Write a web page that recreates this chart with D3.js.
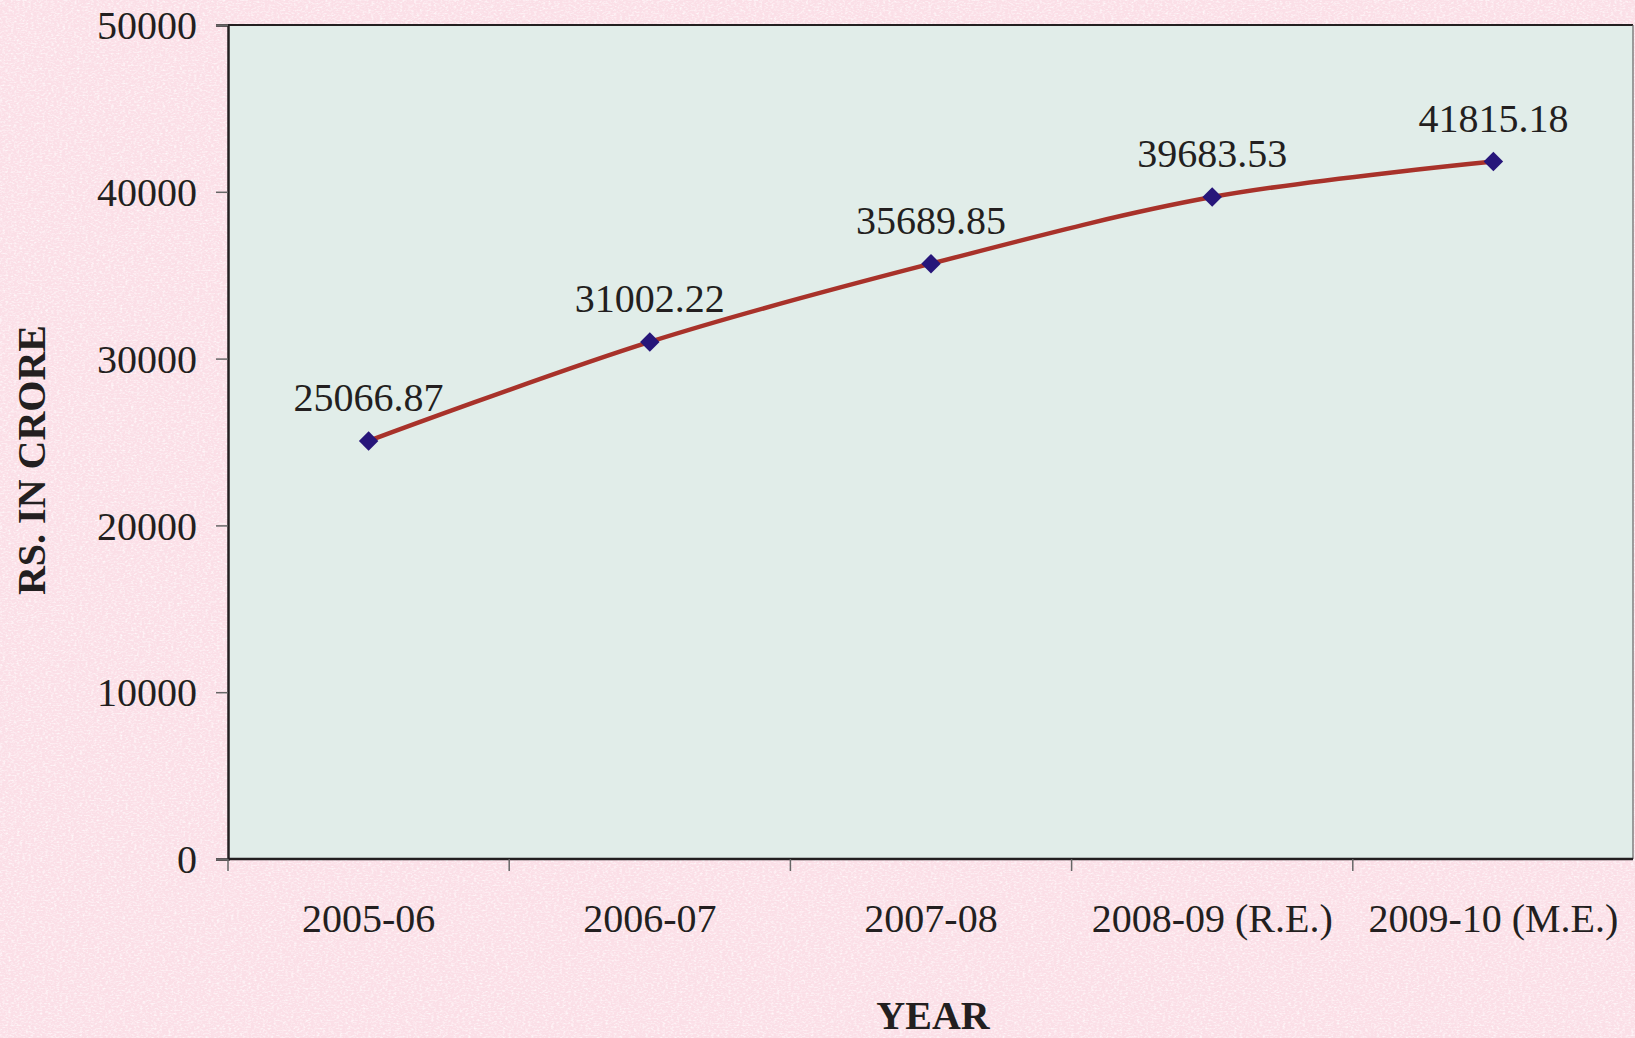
<!DOCTYPE html>
<html>
<head>
<meta charset="utf-8">
<script src="https://cdn.jsdelivr.net/npm/d3@7"></script>
<style>
    html, body { margin: 0; padding: 0; background: #fbe3ea; }
    svg { display: block; font-family: "Liberation Serif", "Times New Roman", serif; }
</style>
</head>
<body>
<div id="container"></div>
<script>
const years = ["2005-06", "2006-07", "2007-08", "2008-09 (R.E.)", "2009-10 (M.E.)"]
const values = [25066.87, 31002.22, 35689.85, 39683.53, 41815.18]
const yTicks = [0, 10000, 20000, 30000, 40000, 50000]

const w = 1635
const h = 1038
const plotLeft = 228
const plotRight = 1633
const plotTop = 25
const plotBottom = 859
const ink = "#231f20"
const serif = "'Liberation Serif', 'Times New Roman', serif"

const svg = d3.select("#container")
    .append("svg")
    .attr("width", w)
    .attr("height", h)

// textured pink page
const defs = svg.append("defs")
const paper = defs.append("filter").attr("id", "paper").attr("x", 0).attr("y", 0).attr("width", "100%").attr("height", "100%")
paper.append("feTurbulence").attr("type", "fractalNoise").attr("baseFrequency", "0.35 0.6").attr("numOctaves", 2).attr("seed", 4).attr("result", "noise")
paper.append("feColorMatrix").attr("in", "noise").attr("type", "matrix")
    .attr("values", "0 0 0 0 1  0 0 0 0 1  0 0 0 0 1  0 0 0 -1.8 1.0")
svg.append("rect").attr("width", w).attr("height", h).attr("fill", "#fbdfe7")
svg.append("rect").attr("width", w).attr("height", h).attr("filter", "url(#paper)")

const xScale = d3.scaleBand()
    .domain(years)
    .range([plotLeft, 1634])
const yScale = d3.scaleLinear()
    .domain([0, 50000])
    .range([plotBottom, plotTop])

// plot area
svg.append("rect")
    .attr("x", plotLeft)
    .attr("y", plotTop)
    .attr("width", plotRight - plotLeft)
    .attr("height", plotBottom - plotTop)
    .attr("fill", "#e1ede9")
svg.append("line")
    .attr("x1", plotLeft).attr("x2", plotRight)
    .attr("y1", plotTop).attr("y2", plotTop)
    .attr("stroke", ink).attr("stroke-width", 2)
svg.append("line")
    .attr("x1", plotRight).attr("x2", plotRight)
    .attr("y1", plotTop).attr("y2", plotBottom)
    .attr("stroke", "#666").attr("stroke-width", 1.2)

// y axis
const yAxis = d3.axisLeft(yScale)
    .tickValues(yTicks)
    .tickFormat(d3.format("d"))
    .tickSize(12)
    .tickPadding(19)
const gy = svg.append("g")
    .attr("transform", `translate(${plotLeft}, 0)`)
    .call(yAxis)
    .attr("font-family", serif)
gy.select(".domain").attr("stroke", ink).attr("stroke-width", 2.5)
gy.selectAll(".tick line").attr("stroke", "#666").attr("stroke-width", 1.5)
gy.selectAll(".tick text")
    .attr("fill", ink)
    .style("font-size", "40px")
    .attr("dy", "0.34em")

// x axis (ticks between categories)
const xAxis = d3.axisBottom(xScale).tickSize(0).tickPadding(0)
const gx = svg.append("g")
    .attr("transform", `translate(0, ${plotBottom})`)
    .call(xAxis)
    .attr("font-family", serif)
gx.select(".domain").remove()
gx.append("line")
    .attr("x1", plotLeft).attr("x2", plotRight)
    .attr("stroke", ink).attr("stroke-width", 2.5)
gx.selectAll(".sep")
    .data(years)
    .enter()
    .append("line")
    .attr("x1", (d) => xScale(d))
    .attr("x2", (d) => xScale(d))
    .attr("y1", 0)
    .attr("y2", 12)
    .attr("stroke", "#666")
    .attr("stroke-width", 1.5)
gx.selectAll(".tick text")
    .attr("fill", ink)
    .attr("y", 73)
    .attr("dy", 0)
    .style("font-size", "40px")

// axis titles
svg.append("text")
    .text("YEAR")
    .attr("x", 933)
    .attr("y", 1029)
    .attr("text-anchor", "middle")
    .attr("fill", ink)
    .style("font-size", "40px")
    .style("font-weight", "bold")
svg.append("text")
    .text("RS. IN CRORE")
    .attr("transform", "translate(45, 460) rotate(-90)")
    .attr("text-anchor", "middle")
    .attr("fill", ink)
    .style("font-size", "40px")
    .style("font-weight", "bold")

// line + markers
const cx = (d, i) => xScale(years[i]) + xScale.bandwidth() / 2
const line = d3.line()
    .x((d, i) => cx(d, i))
    .y((d) => yScale(d))
    .curve(d3.curveCardinal.tension(0))
svg.append("path")
    .datum(values)
    .attr("d", line)
    .attr("fill", "none")
    .attr("stroke", "#a8322a")
    .attr("stroke-width", 4.5)

svg.selectAll(null)
    .data(values)
    .enter()
    .append("path")
    .attr("d", d3.symbol().type(d3.symbolSquare).size(190))
    .attr("transform", (d, i) => `translate(${cx(d, i)}, ${yScale(d)}) rotate(45)`)
    .attr("fill", "#27167a")

svg.selectAll(null)
    .data(values)
    .enter()
    .append("text")
    .text((d) => d.toFixed(2))
    .attr("x", (d, i) => cx(d, i))
    .attr("y", (d) => yScale(d) - 30)
    .attr("text-anchor", "middle")
    .attr("fill", ink)
    .style("font-size", "40px")
</script>
</body>
</html>
